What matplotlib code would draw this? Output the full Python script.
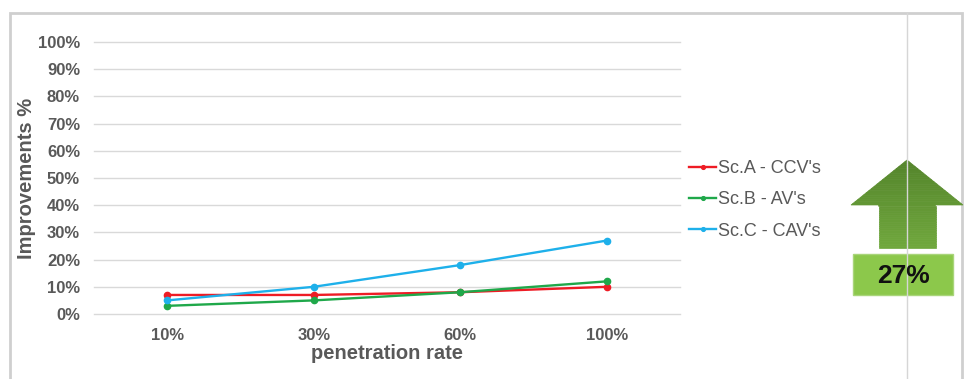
import matplotlib.pyplot as plt
from matplotlib.patches import Rectangle, Polygon
from matplotlib.lines import Line2D
import numpy as np

plt.rcParams['font.family'] = ['Liberation Sans', 'DejaVu Sans']

rates = ["10%", "30%", "60%", "100%"]
sc_a = [7, 7, 8, 10]
sc_b = [3, 5, 8, 12]
sc_c = [5, 10, 18, 27]
series_names = ["Sc.A - CCV's", "Sc.B - AV's", "Sc.C - CAV's"]
series_colors = ["#ee1c25", "#1fa84a", "#1eb0ea"]
best_gain = max(sc_c)

W, H = 967, 379
fig = plt.figure(figsize=(W / 100, H / 100), dpi=100)
fig.patch.set_facecolor("white")

def fx(px):
    return px / W

def fy(py):
    return 1 - py / H

# outer frame of the slide panel
fig.add_artist(Rectangle((fx(10), -0.05), 952 / W, 1.05 - 13 / H, transform=fig.transFigure,
                         fill=False, edgecolor="#cfcfcf", linewidth=2))
fig.add_artist(Line2D([fx(907), fx(907)], [0, fy(13)], transform=fig.transFigure,
                      color="#d6d6d6", linewidth=1))

ax = fig.add_axes([fx(94), fy(314), (680 - 94) / W, (314 - 42) / H])
x = np.arange(len(rates))
for vals, name, col in zip([sc_a, sc_b, sc_c], series_names, series_colors):
    ax.plot(x, vals, color=col, marker="o", markersize=4.5, linewidth=1.7, label=name)

ax.set_xlim(-0.5, len(rates) - 0.5)
ax.set_ylim(0, 100)
ax.set_yticks(range(0, 101, 10))
ax.set_yticklabels([f"{v}%" for v in range(0, 101, 10)])
ax.set_xticks(x)
ax.set_xticklabels(rates)
ax.grid(axis="y", color="#d9d9d9", linewidth=1)
for gl in ax.get_ygridlines():
    gl.set_clip_on(False)
ax.set_axisbelow(True)
for s in ax.spines.values():
    s.set_visible(False)
ax.tick_params(length=0, labelsize=12, labelcolor="#595959", pad=10)
for lbl in ax.get_xticklabels() + ax.get_yticklabels():
    lbl.set_fontweight("bold")
ax.tick_params(axis="x", pad=10)
ax.set_xlabel("penetration rate", fontsize=14.5, fontweight="bold", color="#595959", labelpad=1)
ax.set_ylabel("Improvements %", fontsize=14.5, fontweight="bold", color="#595959", labelpad=1)

ax.legend(loc="upper left", bbox_to_anchor=(1.0, 0.60), frameon=False, fontsize=13,
          labelcolor="#595959", handlelength=1.5, handletextpad=0.1, labelspacing=0.8,
          markerscale=0.6, borderpad=0)

# green arrow with the headline improvement, shaded top to bottom
n = 40
for i in range(n):
    t0, t1 = i / n, (i + 1) / n
    y0 = 160 + (248 - 160) * t0
    y1 = 160 + (248 - 160) * t1
    shade = np.array([0.33, 0.52, 0.17]) * (1 - t0) + np.array([0.44, 0.66, 0.24]) * t0
    pts = []
    for yy in (y0, y1):
        if yy <= 205:
            half = (yy - 160) / (205 - 160) * 56
        else:
            half = 28.5
        pts.append(half)
    poly = [(fx(907 - pts[0]), fy(y0)), (fx(907 + pts[0]), fy(y0)),
            (fx(907 + pts[1]), fy(y1)), (fx(907 - pts[1]), fy(y1))]
    if y0 < 205 < y1:
        poly = [(fx(907 - pts[0]), fy(y0)), (fx(907 + pts[0]), fy(y0)),
                (fx(907 + 56), fy(205)), (fx(907 + 28.5), fy(205)),
                (fx(907 + 28.5), fy(y1)), (fx(907 - 28.5), fy(y1)),
                (fx(907 - 28.5), fy(205)), (fx(907 - 56), fy(205))]
    fig.add_artist(Polygon(poly, closed=True, transform=fig.transFigure,
                           facecolor=shade, edgecolor=shade, linewidth=0.5))

fig.add_artist(Rectangle((fx(853), fy(295)), (953 - 853) / W, (295 - 254) / H,
                         transform=fig.transFigure, facecolor="#8cc84b",
                         edgecolor="#a9d57a", linewidth=1))
fig.text(fx(903), fy(276), f"{best_gain}%", ha="center", va="center",
         fontsize=19, fontweight="bold", color="#111111")

fig.savefig("out.png", dpi=100)
